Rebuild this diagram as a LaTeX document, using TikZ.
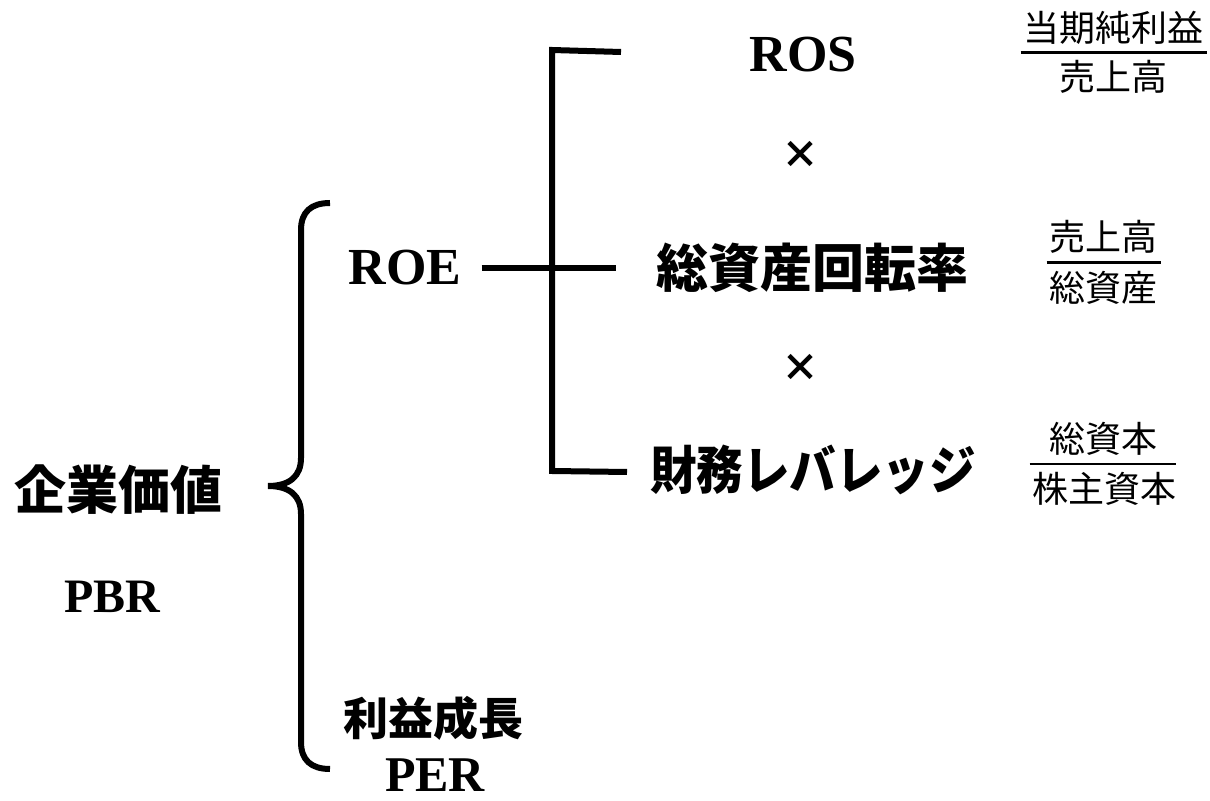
\documentclass[tikz,border=0pt]{standalone}
\usepackage{fontspec}
\usepackage{graphicx}
\setmainfont{Liberation Serif}
\newfontfamily\jpgothic{Noto Sans CJK JP}
\usetikzlibrary{calc}

\tikzset{
  latin/.style={font=\fontsize{26}{30}\selectfont\bfseries, inner sep=0pt},
  kanji/.style={font=\jpgothic\fontsize{26}{30}\selectfont\bfseries, inner sep=0pt},
  ratio/.style={font=\jpgothic\fontsize{18}{22}\selectfont, inner sep=0pt},
  mult/.style={font=\jpgothic\fontsize{19}{23}\selectfont\bfseries, inner sep=0pt},
  ratiobar/.style={line width=1.1pt},
  bracket/.style={line width=3pt},
}

\begin{document}
\begin{tikzpicture}[x=0.5pt, y=-0.5pt]
  \useasboundingbox (0,0) rectangle (1210,801);

  % left side
  \node (value) [kanji] at (118,490) {企業価値};
  \node (pbr) [latin, font=\fontsize{24}{28}\selectfont\bfseries] at (112,597) {PBR};
  \node (roe) [latin] at (405,268) {ROE};
  \node (growth) [kanji, font=\jpgothic\fontsize{22.5}{26}\selectfont\bfseries] at (433,718) {利益成長};
  \node (per) [latin, font=\fontsize{25}{29}\selectfont\bfseries] at (435,775) {PER};

  % decomposition of ROE
  \node (ros) [latin] at (803,55) {ROS};
  \node (times1) [mult] at (800,155) {×};
  \node (turnover) [kanji] at (812,268) {総資産回転率};
  \node (times2) [mult] at (800,368) {×};
  \node (leverage) [kanji] at (813,470) {\scalebox{0.895}[1]{財務レバレッジ}};

  % ratios
  \node (ros-num) [ratio] at (1113,28) {当期純利益};
  \node (ros-den) [ratio] at (1113,77) {売上高};
  \node (to-num) [ratio] at (1103,237) {売上高};
  \node (to-den) [ratio] at (1103,288) {総資産};
  \node (lev-num) [ratio] at (1103,439) {総資本};
  \node (lev-den) [ratio] at (1104,489) {株主資本};

  \path (ros-num.south) -- (ros-den.north) coordinate[midway] (ros-bar);
  \path (to-num.south) -- (to-den.north) coordinate[midway] (to-bar);
  \path (lev-num.south) -- (lev-den.north) coordinate[midway] (lev-bar);
  \draw[ratiobar] ([xshift=-1]ros-num.west |- ros-bar) -- ([xshift=2]ros-num.east |- ros-bar);
  \draw[ratiobar] ([xshift=-1]to-num.west |- to-bar) -- ([xshift=2]to-num.east |- to-bar);
  \draw[ratiobar] ([xshift=-1]lev-den.west |- lev-bar) -- (lev-den.east |- lev-bar);

  % brace
  \draw[bracket] (330,203) .. controls (311,203) and (301,212) .. (301,230)
    -- (301,458) .. controls (301,476) and (290,486) .. (268,486)
    .. controls (290,486) and (301,496) .. (301,514)
    -- (301,742) .. controls (301,760) and (311,769) .. (330,769);

  % bracket
  \coordinate (top) at (552,50);
  \coordinate (bottom) at (552,471);
  \draw[bracket] (621,52) -- (top) -- (bottom) -- (627,472);
  \draw[bracket] ([xshift=10]roe.east) -- ([xshift=-20]turnover.west);
\end{tikzpicture}
\end{document}
